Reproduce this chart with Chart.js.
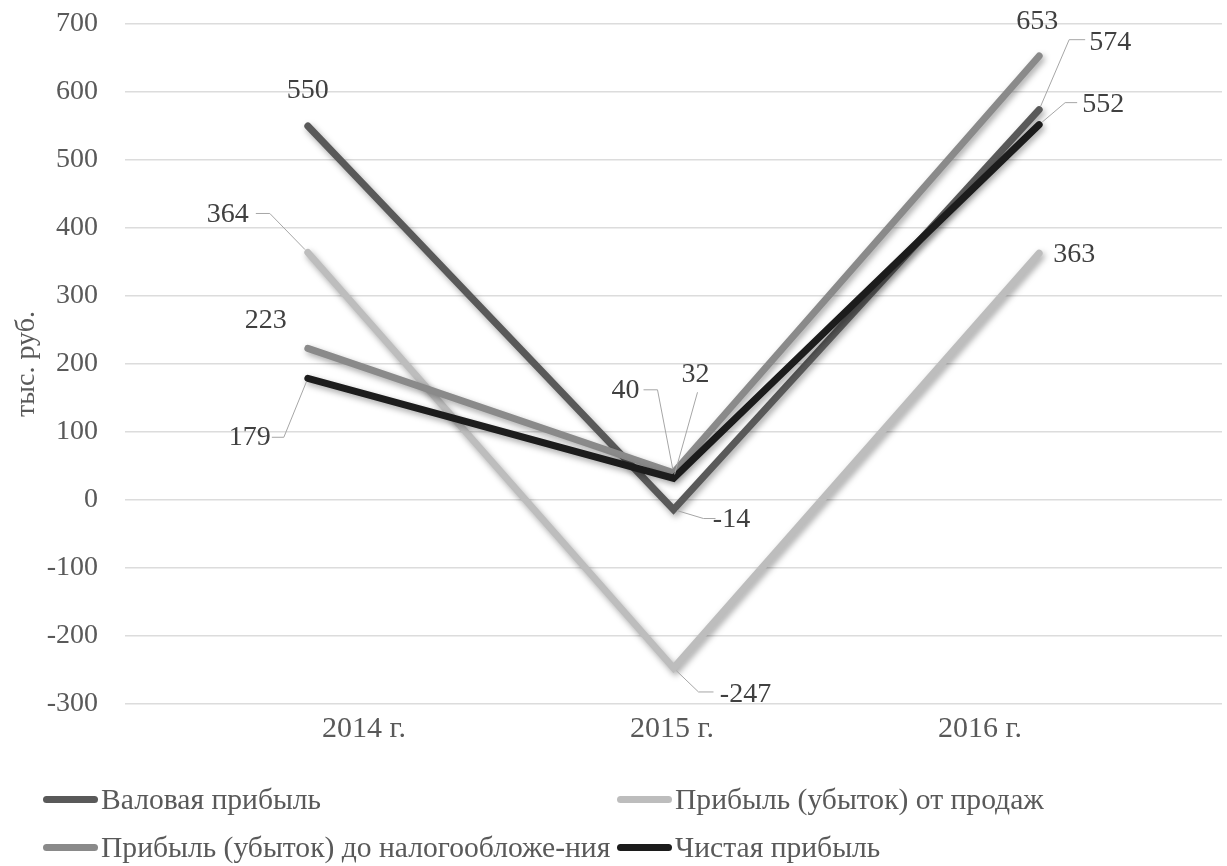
<!DOCTYPE html>
<html><head><meta charset="utf-8">
<script src="https://cdn.jsdelivr.net/npm/chart.js@4"></script>
<style>
html,body{margin:0;padding:0;background:#fff;}
#wrap{position:relative;width:1227px;height:866px;overflow:hidden;}
canvas{position:absolute;left:0;top:0;}
.leg{position:absolute;height:34px;display:flex;align-items:center;font-family:"Liberation Serif","Times New Roman",serif;font-size:29.6px;color:#595959;white-space:nowrap;}
.leg i{display:inline-block;width:55px;height:7px;border-radius:4px;margin-right:3px;}
</style></head><body>
<div id="wrap"><canvas id="c" width="1227" height="866"></canvas></div>
<script>
// ---- data ----
const categories = ['2014 г.', '2015 г.', '2016 г.'];
const seriesNames = ['Валовая прибыль', 'Прибыль (убыток) от продаж', 'Прибыль (убыток) до налогообложе-ния', 'Чистая прибыль'];
const grossProfit = [550, -14, 574];
const salesProfit = [364, -247, 363];
const preTaxProfit = [223, 40, 653];
const netProfit = [179, 32, 552];
const yMin = -300, yMax = 700, yStep = 100;
const yTitle = 'тыс. руб.';

// ---- styles ----
const seriesColors = ['#595959', '#bdbdbd', '#8a8a8a', '#1c1c1c'];
const FONT = '"Liberation Serif", "Times New Roman", serif';
// label placement relative to point: dx, dy, leader [sx,sy,ex,ey] (offsets)
const labelLayout = [
  [{dx:0,dy:-35}, {dx:58,dy:10,lead:[42,9,30,9]}, {dx:71,dy:-67,lead:[46,-70,30,-70]}],
  [{dx:-80,dy:-38,lead:[-52,-39,-38,-39]}, {dx:72,dy:27,lead:[40,24,25,24]}, {dx:35,dy:1}],
  [{dx:-42,dy:-28}, {dx:-48,dy:-82,lead:[-30,-83,-16,-83]}, {dx:-2,dy:-34}],
  [{dx:-58,dy:59,lead:[-36,59,-24,59]}, {dx:22,dy:-104,lead:[24,-86,24,-86]}, {dx:64,dy:-20,lead:[38,-22,26,-22]}]
];
// pixel mapping for the category text row (linear axis range)
const labelAxisMin = -0.776, labelAxisMax = 2.786;

const seriesValues = [grossProfit, salesProfit, preTaxProfit, netProfit];

const labelPlugin = {
  id: 'dlabels',
  beforeDatasetsDraw(chart) {
    const c = chart.ctx;
    c.save();
    c.shadowColor = 'rgba(0,0,0,0.35)';
    c.shadowBlur = 6;
    c.shadowOffsetX = 2;
    c.shadowOffsetY = 3;
  },
  afterDatasetsDraw(chart) {
    const ctx = chart.ctx;
    ctx.restore();
    ctx.save();
    ctx.font = '28px ' + FONT;
    ctx.textAlign = 'center';
    ctx.textBaseline = 'middle';
    chart.data.datasets.forEach((ds, i) => {
      const meta = chart.getDatasetMeta(i);
      meta.data.forEach((pt, j) => {
        const st = labelLayout[i][j];
        const lx = pt.x + st.dx, ly = pt.y + st.dy;
        if (st.lead) {
          const [sx, sy, ex, ey] = st.lead;
          const ax = pt.x + ex, ay = pt.y + ey;
          const ang = Math.atan2(ay - pt.y, ax - pt.x);
          ctx.beginPath();
          ctx.strokeStyle = '#a6a6a6';
          ctx.lineWidth = 1;
          ctx.moveTo(pt.x + sx, pt.y + sy);
          ctx.lineTo(ax, ay);
          ctx.lineTo(pt.x + Math.cos(ang) * 4, pt.y + Math.sin(ang) * 4);
          ctx.stroke();
        }
        ctx.fillStyle = '#404040';
        ctx.fillText(String(ds.data[j]), lx, ly);
      });
    });
    ctx.restore();
  }
};

new Chart(document.getElementById('c'), {
  type: 'line',
  data: {
    labels: categories,
    datasets: seriesNames.map((name, i) => ({
      label: name,
      data: seriesValues[i],
      borderColor: seriesColors[i],
      backgroundColor: seriesColors[i],
      borderWidth: 7,
      borderCapStyle: 'round',
      borderJoinStyle: 'miter',
      pointRadius: 0,
      pointHoverRadius: 0,
      tension: 0,
      fill: false,
      order: seriesNames.length - i
    }))
  },
  plugins: [labelPlugin],
  options: {
    responsive: false,
    devicePixelRatio: 1,
    animation: false,
    events: [],
    layout: { padding: { left: 0, top: 24, right: 5, bottom: 122 } },
    plugins: { legend: { display: false }, tooltip: { enabled: false } },
    scales: {
      x: { type: 'category', offset: true, display: false },
      xl: {
        type: 'linear', position: 'bottom', min: labelAxisMin, max: labelAxisMax,
        grid: { display: false, drawTicks: false }, border: { display: false },
        afterBuildTicks: s => { s.ticks = categories.map((c, k) => ({ value: k })); },
        afterFit: s => { s.height = 40; },
        ticks: {
          autoSkip: false, maxRotation: 0, padding: 7,
          color: '#595959', font: { family: FONT, size: 30 },
          callback: v => categories[v]
        }
      },
      y: {
        min: yMin, max: yMax,
        afterFit: s => { s.width = 125; },
        grid: { color: '#dcdcdc', lineWidth: 1.5, drawTicks: true, tickLength: 27, tickColor: 'rgba(0,0,0,0)' },
        border: { display: false },
        ticks: { stepSize: yStep, padding: 0, color: '#595959', font: { family: FONT, size: 28 } },
        title: { display: true, text: yTitle, color: '#595959', font: { family: FONT, size: 28 }, padding: { top: 10, bottom: 0 } }
      }
    }
  }
});

// legend (2-column grid)
const legPos = [[43, 782], [617, 782], [43, 830], [617, 830]];
const wrap = document.getElementById('wrap');
seriesNames.forEach((name, i) => {
  const d = document.createElement('div');
  d.className = 'leg';
  d.style.left = legPos[i][0] + 'px';
  d.style.top = legPos[i][1] + 'px';
  const sw = document.createElement('i');
  sw.style.background = seriesColors[i];
  d.appendChild(sw);
  d.appendChild(document.createTextNode(name));
  wrap.appendChild(d);
});
</script>
</body></html>
